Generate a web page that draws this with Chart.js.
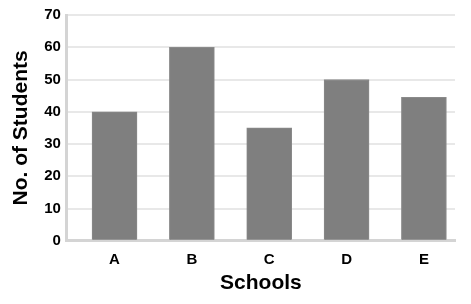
<!DOCTYPE html>
<html>
<head>
<meta charset="utf-8">
<script src="https://cdn.jsdelivr.net/npm/chart.js@4"></script>
<style>
  body { margin: 0; background: #fff; }
  canvas { display: block; }
</style>
</head>
<body>
<canvas id="chart" width="471" height="304"></canvas>
<script>
// chart data
const schools = ['A', 'B', 'C', 'D', 'E'];
const students = [40, 60, 35, 50, 44.5];
const yTicks = [0, 10, 20, 30, 40, 50, 60, 70];

const font = 'Arial, "Liberation Sans", sans-serif';

// bars sit on a linear x axis so the first bar keeps its gap from the y axis
const points = schools.map((s, i) => ({ x: i, y: students[i] }));

new Chart(document.getElementById('chart').getContext('2d'), {
  type: 'bar',
  data: {
    datasets: [{
      data: points,
      backgroundColor: '#7f7f7f',
      borderColor: '#8a8a8a',
      borderWidth: 1,
      barThickness: 45
    }]
  },
  options: {
    responsive: false,
    animation: false,
    layout: { padding: { top: 9, right: 16, bottom: 8, left: 1 } },
    plugins: { legend: { display: false }, tooltip: { enabled: false } },
    scales: {
      x: {
        type: 'linear',
        offset: false,
        min: -0.616,
        max: 4.402,
        grid: { display: false, drawTicks: false },
        border: { display: true, color: '#d4d4d4', width: 3 },
        ticks: {
          stepSize: 1,
          includeBounds: false,
          autoSkip: false,
          maxRotation: 0,
          padding: 10,
          color: '#000',
          font: { family: font, size: 15, weight: 'bold' },
          callback: v => Number.isInteger(v) ? (schools[v] || '') : ''
        },
        title: {
          display: true,
          text: 'Schools',
          color: '#000',
          font: { family: font, size: 21, weight: 'bold' },
          padding: { top: -8, bottom: 0 }
        }
      },
      y: {
        min: yTicks[0],
        max: yTicks[yTicks.length - 1],
        grid: { color: '#e8e8e8', lineWidth: 2, drawTicks: false },
        border: { display: true, color: '#d4d4d4', width: 3 },
        afterBuildTicks: axis => { axis.ticks = yTicks.map(v => ({ value: v })); },
        ticks: {
          padding: 6,
          color: '#000',
          font: { family: font, size: 15, weight: 'bold' }
        },
        title: {
          display: true,
          text: 'No. of Students',
          color: '#000',
          font: { family: font, size: 21, weight: 'bold' },
          padding: { top: 8, bottom: 4 }
        }
      }
    }
  }
});
</script>
</body>
</html>
